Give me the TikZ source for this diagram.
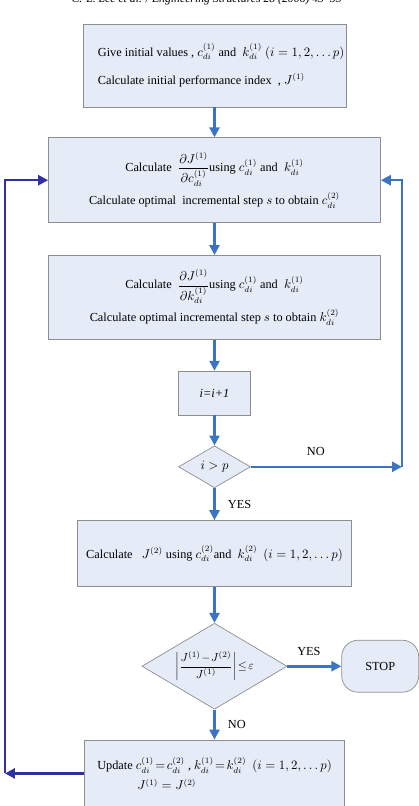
\documentclass[tikz,border=0pt]{standalone}
\usepackage{amsmath}
\usepackage{fontspec}
\setmainfont{Liberation Serif}
\usetikzlibrary{positioning, arrows.meta, shapes.geometric}
\definecolor{boxfill}{HTML}{E6ECF7}
\definecolor{boxline}{HTML}{8E8E8E}
\definecolor{flow}{HTML}{3C74C4}
\definecolor{loopback}{HTML}{2F31A0}

\begin{document}
\begin{tikzpicture}[
  every node/.style={font=\fontsize{10.5}{13}\selectfont},
  stepbox/.style={
    draw=boxline, fill=boxfill, line width=0.6pt, align=center, inner sep=0pt
  },
  test/.style={
    diamond, draw=boxline, fill=boxfill, line width=0.6pt, inner sep=0pt, shape aspect=1.7
  },
  stopbox/.style={
    draw=boxline, fill=boxfill, line width=0.6pt, rounded corners=14pt,
    minimum width=2.31cm, minimum height=1.56cm
  },
  arrow/.style={-{Triangle[length=8.5pt, width=8.5pt]}, flow, line width=2.2pt},
  backarrow/.style={arrow, loopback},
  lbl/.style={text=black},
  node distance=0.93cm
]
  \path[use as bounding box, clip] (0,0) rectangle (12.57,-24.18);
  \node[font=\itshape\fontsize{10}{12}\selectfont, anchor=base] (header) at (6.2,-0.08)
    {C.-L. Lee et al. / Engineering Structures 28 (2006) 43–53};

  \node[stepbox, minimum width=7.89cm, minimum height=2.49cm, align=left] (init) at (6.435,-1.965)
    {\hspace*{0.4cm}Give initial values , $c_{di}^{(1)}$ and\ \ $k_{di}^{(1)}$\ $(i=1,2,\ldots p)$\\[11pt]
     \hspace*{0.4cm}Calculate initial performance index\ \ , $J^{(1)}$};
  \node[stepbox, minimum width=9.96cm, minimum height=2.55cm, below=0.9cm of init] (gradc)
    {Calculate\ \ $\dfrac{\partial J^{(1)}}{\partial c_{di}^{(1)}}$using\ $c_{di}^{(1)}$\ and\ \ $k_{di}^{(1)}$\\[4pt]
     Calculate optimal\ \ incremental step $s$ to obtain\ $c_{di}^{(2)}$};
  \node[stepbox, minimum width=9.96cm, minimum height=2.52cm, below=0.96cm of gradc] (gradk)
    {Calculate\ \ $\dfrac{\partial J^{(1)}}{\partial k_{di}^{(1)}}$using\ $c_{di}^{(1)}$\ and\ \ $k_{di}^{(1)}$\\[4pt]
     Calculate optimal incremental step $s$ to obtain\ $k_{di}^{(2)}$};
  \node[stepbox, minimum width=2.16cm, minimum height=1.32cm, below=0.93cm of gradk] (incr)
    {\textit{i=i+1}};
  \node[test, minimum width=2.16cm, minimum height=1.26cm, below=0.9cm of incr] (ichk)
    {$i>p$};
  \node[stepbox, minimum width=8.22cm, minimum height=1.98cm, below=0.96cm of ichk] (newj)
    {Calculate\ \ \ $J^{(2)}$ using\ $c_{di}^{(2)}$and\ \ $k_{di}^{(2)}$\ \ $(i=1,2,\ldots p)$};
  \node[test, minimum width=4.35cm, minimum height=2.58cm, below=1.08cm of newj,
        inner sep=-8pt, font=\fontsize{10}{12}\selectfont] (conv)
    {$\left|\dfrac{J^{(1)}\!-\!J^{(2)}}{J^{(1)}}\right|\!\le\!\varepsilon$};
  \node[stopbox, right=1.62cm of conv] (stop) {STOP};
  \node[stepbox, minimum width=7.8cm, minimum height=2.01cm, below=0.9cm of conv, align=left] (update)
    {Update $c_{di}^{(1)}\!=\!c_{di}^{(2)}$ , $k_{di}^{(1)}\!=\!k_{di}^{(2)}$\ \ $(i=1,2,\ldots p)$\\[4pt]
     \hspace*{1.2cm}$J^{(1)}=J^{(2)}$};

  % loop corners
  \coordinate (redge) at (12.06,0);
  \coordinate (ledge) at (0.15,0);
  \coordinate (rloop) at (ichk.east -| redge);
  \coordinate (lloop) at (update.west -| ledge);

  \draw[arrow] (init) -- (gradc);
  \draw[arrow] (gradc) -- (gradk);
  \draw[arrow] (gradk) -- (incr);
  \draw[arrow] (incr) -- (ichk);
  \draw[arrow] (ichk.east) -- node[lbl, above=5pt, pos=0.43] {NO} (rloop);
  \draw[arrow] (rloop) |- (gradc.east);
  \draw[arrow] (ichk.south) -- node[lbl, right=7pt] {YES} (newj.north);
  \draw[arrow] (newj) -- (conv);
  \draw[arrow] (conv.east) -- node[lbl, above=5pt, pos=0.4] {YES} (stop.west);
  \draw[arrow] (conv.south) -- node[lbl, right=7pt] {NO} (update.north);
  \draw[backarrow] (update.west) -- (lloop);
  \draw[backarrow] (lloop) |- (gradc.west);
\end{tikzpicture}
\end{document}
